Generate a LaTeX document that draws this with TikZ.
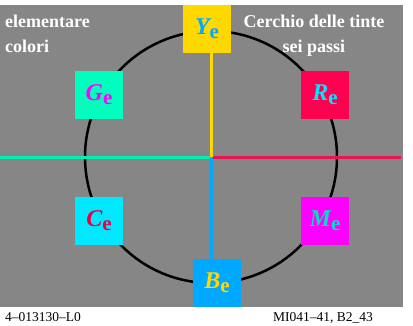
\documentclass[tikz,border=0pt]{standalone}
\usepackage{fontspec}
\setmainfont{Liberation Serif}
\definecolor{bggray}{RGB}{134,134,134}
\definecolor{yel}{RGB}{255,216,0}
\definecolor{blu}{RGB}{0,168,255}
\definecolor{grn}{RGB}{0,255,190}
\definecolor{rd}{RGB}{255,0,80}
\definecolor{cya}{RGB}{0,232,255}
\definecolor{mag}{RGB}{255,0,255}
\definecolor{grnline}{RGB}{0,240,180}
\definecolor{redline}{RGB}{230,20,80}
\definecolor{rdtext}{RGB}{235,0,70}
\definecolor{medtext}{RGB}{0,225,195}
\newcommand{\hue}[1]{{\itshape #1}\raisebox{-4pt}{\fontsize{21}{22}\selectfont e}}
\tikzset{
  huebox/.style={minimum size=48pt, inner sep=0pt, font=\bfseries\fontsize{24}{26}\selectfont},
  axis/.style={line width=3pt},
  title/.style={text=white, inner sep=0pt, font=\bfseries\fontsize{18}{25}\selectfont}
}
\begin{document}
\begin{tikzpicture}[x=1pt,y=-1pt]
    \useasboundingbox (0,0) rectangle (413,325);
    \fill[bggray] (0,5) rectangle (403,307);

    % hue circle
    \coordinate (c) at (211,157);
    \draw[line width=2.5pt] (c) circle (126pt);

    % the six hue boxes
    \node[huebox, fill=yel, text=blu] (Y) at (207,29) {\hue{Y}};
    \node[huebox, fill=grn, text=mag] (G) at (99,95) {\hue{G}};
    \node[huebox, fill=rd, text=cya] (R) at (325,95) {\hue{R}};
    \node[huebox, fill=cya, text=rdtext] (C) at (99,221) {\hue{C}};
    \node[huebox, fill=mag, text=medtext] (M) at (325,221) {\hue{M}};
    \node[huebox, fill=blu, text=yel] (B) at (217,283) {\hue{B}};

    % axes through the centre
    \coordinate (w) at (0,157);
    \coordinate (e) at (401,157);
    \draw[axis, grnline] (w) -- (c);
    \draw[axis, redline] (c) -- (e);
    \draw[axis, yel] (c) -- (c |- Y.south);
    \draw[axis, blu] (c) -- (c |- B.north);

    % titles (base = last line)
    \node[title, anchor=base west, align=left] (t1) at (5,52) {elementare\\colori};
    \node[title, anchor=base, align=center] (t2) at (314,52) {Cerchio delle tinte\\sei passi};

    \node[anchor=base west, inner sep=0pt, font=\fontsize{13.5}{15}\selectfont] (f1) at (5,321) {4--013130--L0};
    \node[anchor=base east, inner sep=0pt, font=\fontsize{13.5}{15}\selectfont] (f2) at (373,321) {MI041--41, B2\_43};
\end{tikzpicture}
\end{document}
